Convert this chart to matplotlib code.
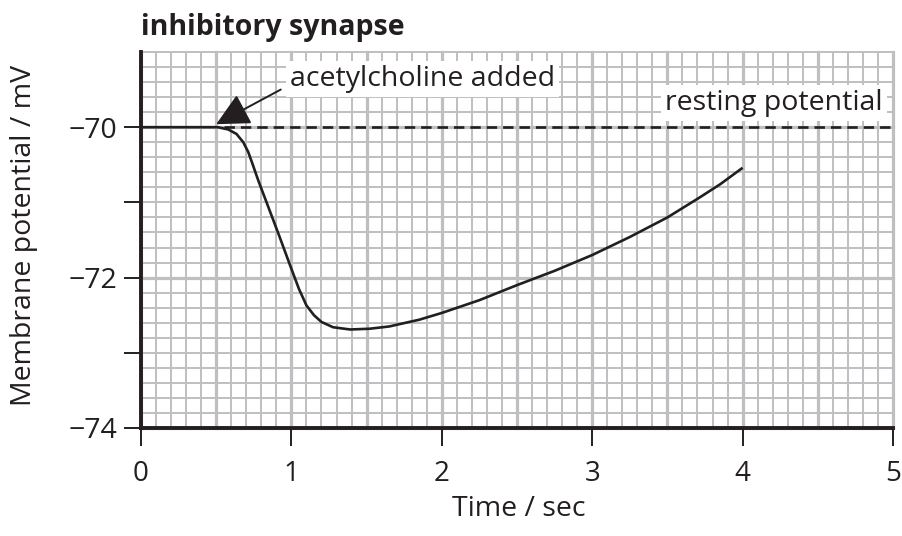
import numpy as np
import matplotlib
matplotlib.use("Agg")
import matplotlib.pyplot as plt

# ---- data ----
time_s = [0, 0.51, 0.58, 0.635, 0.68, 0.713, 0.74, 0.78, 0.835, 0.92, 0.99,
          1.05, 1.1, 1.15, 1.2, 1.277, 1.39, 1.52, 1.65, 1.85, 2.0, 2.25, 2.5,
          2.75, 3.0, 3.25, 3.5, 3.71, 3.85, 4.0]
potential_mv = [-70, -70, -70.03, -70.09, -70.2, -70.33, -70.48, -70.71, -71.0,
                -71.45, -71.83, -72.15, -72.37, -72.5, -72.59, -72.66, -72.69,
                -72.68, -72.65, -72.56, -72.47, -72.3, -72.1, -71.91, -71.7,
                -71.46, -71.2, -70.94, -70.76, -70.54]
resting_potential = -70
dash_start = 0.55
x_ticks = [0, 1, 2, 3, 4, 5]
y_ticks = [-74, -73, -72, -71, -70]
y_tick_labels = ["\u221274", "", "\u221272", "", "\u221270"]
title = "inhibitory synapse"
xlabel = "Time / sec"
ylabel = "Membrane potential / mV"
arrow_text = "acetylcholine added"
arrow_tip = (0.5, -69.96)
arrow_text_pos = (0.99, -69.36)
rest_text = "resting potential"
rest_text_pos = (4.93, -69.68)

plt.rcParams['font.family'] = ['Open Sans', 'DejaVu Sans']
plt.rcParams['lines.scale_dashes'] = False
ink = '#231f20'
grid_c = '#bfbfc2'
fs = 20.5

fig = plt.figure(figsize=(9.02, 5.36), dpi=100)
ax = fig.add_axes([141/902, 1 - 428/536, (893-141)/902, (428-52)/536])
ax.set_xlim(0, 5)
ax.set_ylim(-74, -69)

# grid
for xv in np.arange(0, 5.0001, 0.1):
    major = abs(xv * 2 - round(xv * 2)) < 1e-6
    ax.axvline(xv, color=grid_c, lw=2.3 if major else 1.4, zorder=0, clip_on=False)
for yv in np.arange(-74, -68.999, 0.2):
    major = abs(yv / 2 - round(yv / 2)) < 1e-6
    ax.axhline(yv, color=grid_c, lw=2.3 if major else 1.4, zorder=0, clip_on=False)

# resting line
ax.plot([dash_start, 5], [resting_potential, resting_potential], color=ink, lw=1.9,
        dashes=(7.5, 4.3), zorder=3, clip_on=False)
# curve
ax.plot(time_s, potential_mv, color=ink, lw=1.9, zorder=4,
        solid_joinstyle='round', solid_capstyle='butt')

# spines
for s in ['top', 'right']:
    ax.spines[s].set_visible(False)
for s in ['left', 'bottom']:
    ax.spines[s].set_color(ink)
    ax.spines[s].set_linewidth(2.8)
    ax.spines[s].set_zorder(5)

ax.set_xticks(x_ticks)
ax.set_xticklabels([str(v) for v in x_ticks])
ax.set_yticks(y_ticks)
ax.set_yticklabels(y_tick_labels)
ax.tick_params(axis='x', length=13, width=1.4, color=ink, labelsize=20, labelcolor=ink, pad=10)
ax.tick_params(axis='y', length=12, width=1.4, color=ink, labelsize=fs, labelcolor=ink, pad=5)

fig.text(24/902, 1 - 235/536, ylabel, rotation=90, ha='center', va='center',
         fontsize=fs, color=ink)
fig.text(519/902, 1 - 509/536, xlabel, ha='center', va='center', fontsize=fs, color=ink)
fig.text(141/902, 1 - 27/536, title, ha='left', va='center', fontsize=fs,
         fontweight='bold', color=ink)

ax.annotate(arrow_text, xy=arrow_tip, xytext=arrow_text_pos, ha='left', va='center',
            fontsize=fs, color=ink, zorder=6,
            bbox=dict(boxstyle='square,pad=0.15', fc='white', ec='none'),
            arrowprops=dict(arrowstyle='-|>,head_length=1.0,head_width=0.5',
                            color=ink, lw=1.4, shrinkA=4, shrinkB=0,
                            relpos=(0, 0.3)))
ax.text(rest_text_pos[0], rest_text_pos[1], rest_text, ha='right', va='center',
        fontsize=fs, color=ink, zorder=6,
        bbox=dict(boxstyle='square,pad=0.15', fc='white', ec='none'))

fig.savefig('out.png', dpi=100)
